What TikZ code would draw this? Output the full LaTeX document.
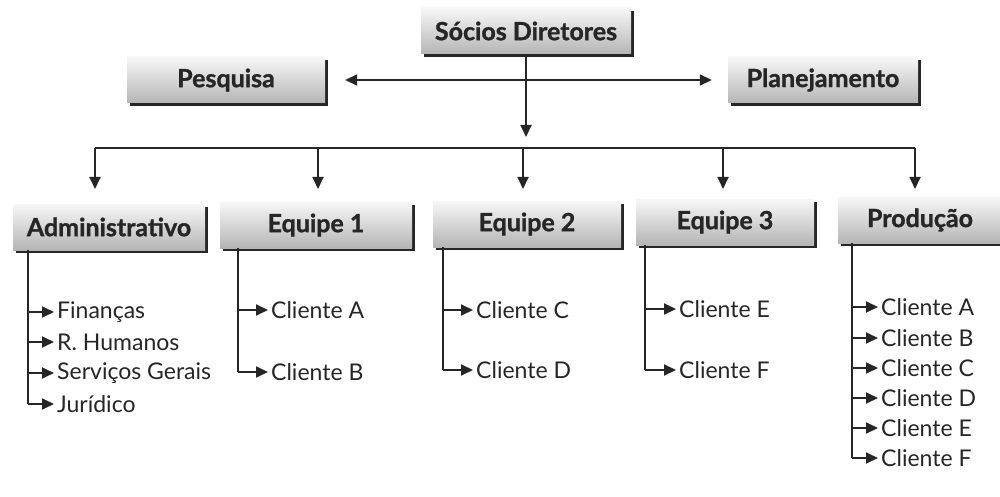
\documentclass[tikz,border=0pt]{standalone}
\usepackage{fontspec}
\setmainfont{Lato}[BoldFeatures={FakeBold=1.2}]
\usetikzlibrary{arrows.meta,calc}
\definecolor{ink}{HTML}{262626}
\tikzset{
  box/.style={rectangle, inner sep=0pt, font=\fontsize{25}{28}\selectfont\bfseries,
    text=ink, left color=gray!6, right color=gray!58, shading angle=0,
    minimum height=46pt},
  shadowbox/.style={fill=ink},
  item/.style={anchor=west, inner sep=1pt, font=\fontsize{23}{26}\selectfont, text=ink},
  link/.style={draw=ink, line width=1.8pt},
  arr/.style={link, -{Triangle[length=12pt,width=11pt]}, shorten >=2pt},
  darr/.style={link, {Triangle[length=12pt,width=11pt]}-{Triangle[length=12pt,width=11pt]}},
}
\newcommand{\orgbox}[4]{% name, center, width, text
  \fill[shadowbox] ($#2+(-#3/2+3,-20)$) rectangle ($#2+(#3/2+3,26)$);
  \node[box, minimum width=#3pt] (#1) at #2 {#4};
}
\begin{document}
\begin{tikzpicture}[x=1pt,y=-1pt]
\useasboundingbox[fill=white] (0,0) rectangle (1000,497);

% top level
\orgbox{soc}{(526,31)}{210}{Sócios Diretores}
\orgbox{pes}{(226,80)}{198}{Pesquisa}
\orgbox{pla}{(823,80)}{190}{Planejamento}

% departments
\orgbox{adm}{(109,227)}{192}{Administrativo}
\orgbox{eq1}{(316,225)}{192}{Equipe 1}
\orgbox{eq2}{(527,224)}{188}{Equipe 2}
\orgbox{eq3}{(725,222)}{178}{Equipe 3}
\orgbox{pro}{(920,220)}{164}{Produção}

% staff link and partners' line
\draw[darr] ($(pes.east)+(20,0)$) -- ($(pla.west)+(-16,0)$);
\coordinate (busend) at (526,139);
\draw[arr] (soc.south) -- (busend);
\draw[link] (95,148) -- (915,148);
\foreach \x in {95, 318, 523, 723, 915}{
  \draw[arr] (\x,148) -- (\x,191);
}

% Administrativo
\node[item] (fin) at (56,312) {Finanças};
\node[item] (rh)  at (56,342) {R. Humanos};
\node[item] (sg)  at (56,373) {Serviços Gerais};
\node[item] (jur) at (56,404) {Jurídico};
\draw[link] (adm.south -| 28,0) -- (28,404);
\foreach \t in {fin,rh,sg,jur}{ \draw[arr] (28,0 |- \t.west) -- (\t.west); }

% Equipe 1
\node[item] (e1a) at (270,310) {Cliente A};
\node[item] (e1b) at (270,372) {Cliente B};
\draw[link] (eq1.south -| 238,0) -- (238,372);
\foreach \t in {e1a,e1b}{ \draw[arr] (238,0 |- \t.west) -- (\t.west); }

% Equipe 2
\node[item] (e2c) at (475,310) {Cliente C};
\node[item] (e2d) at (475,370) {Cliente D};
\draw[link] (eq2.south -| 443,0) -- (443,370);
\foreach \t in {e2c,e2d}{ \draw[arr] (443,0 |- \t.west) -- (\t.west); }

% Equipe 3
\node[item] (e3e) at (678,309) {Cliente E};
\node[item] (e3f) at (678,370) {Cliente F};
\draw[link] (eq3.south -| 645,0) -- (645,370);
\foreach \t in {e3e,e3f}{ \draw[arr] (645,0 |- \t.west) -- (\t.west); }

% Produção
\node[item] (pa) at (880,307) {Cliente A};
\node[item] (pb) at (880,338) {Cliente B};
\node[item] (pc) at (880,368) {Cliente C};
\node[item] (pd) at (880,398) {Cliente D};
\node[item] (pe) at (880,428) {Cliente E};
\node[item] (pf) at (880,458) {Cliente F};
\draw[link] (pro.south -| 852,0) -- (852,458);
\foreach \t in {pa,pb,pc,pd,pe,pf}{ \draw[arr] (852,0 |- \t.west) -- (\t.west); }
\end{tikzpicture}
\end{document}
